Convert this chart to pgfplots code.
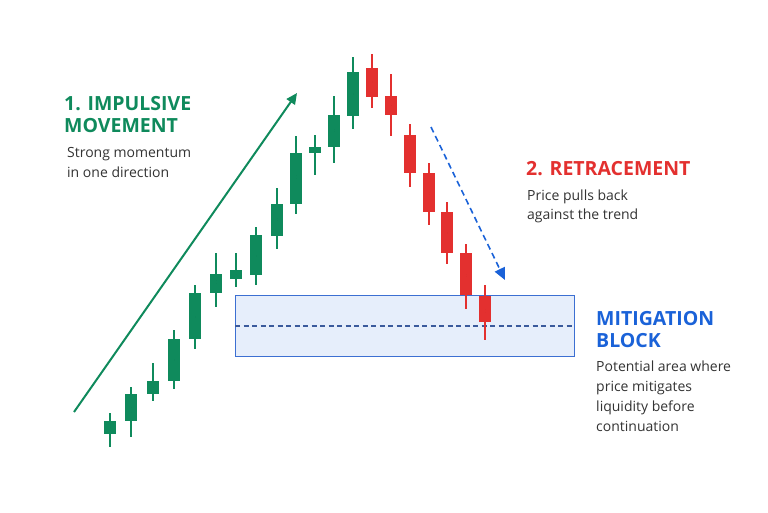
\documentclass[border=0pt]{standalone}
\usepackage{fontspec}
\setmainfont{Open Sans}
\usepackage{pgfplots}
\pgfplotsset{compat=1.18}
\usepackage{pgfplotstable}
\usetikzlibrary{arrows.meta}
\definecolor{cgreen}{HTML}{0F8A5C}
\definecolor{cred}{HTML}{E3302F}
\definecolor{cblue}{HTML}{1A62D8}
\definecolor{boxfill}{HTML}{E6EEFB}
\definecolor{boxline}{HTML}{3C6FD2}
\definecolor{dashline}{HTML}{3A5A9C}
\definecolor{txt}{HTML}{333333}

% pixel coordinates (y downward): x, open, high, low, close
\pgfplotstableread{
x o h l c
110 434 413 447 421
131 421 387 437 394
153 394 363 401 381
174 381 330 389 339
195 339 285 349 293
216 293 253 307 274
236 279 253 287 270
256 275 227 285 235
277 236 188 249 204
296 204 136 214 153
315 153 135 175 147
334 147 96 163 115
353 116 57 129 72
}\greendata
\pgfplotstableread{
x o h l c
372 68 54 108 97
391 96 74 136 115
410 135 124 187 173
429 173 163 225 212
447 212 202 264 253
466 253 244 309 295
485 296 285 340 322
}\reddata

\pgfplotsset{candle/.style={only marks, mark=*, mark size=0pt, mark options={draw=none, fill=none},
  error bars/.cd, y dir=both, y explicit, error mark=none}}

\begin{document}
\begin{tikzpicture}
\begin{axis}[name=ax, width=768pt, height=512pt, scale only axis,
  xmin=0, xmax=768, ymin=0, ymax=512, y dir=reverse, hide axis, clip=false]
% mitigation block
\addplot[draw=boxline, fill=boxfill, line width=1pt] coordinates {(235,295) (574,295) (574,356) (235,356)} -- cycle;
\addplot[dashline, line width=1.2pt, dash pattern=on 5pt off 3.5pt] coordinates {(235,326) (574,326)};
% wicks
\addplot[candle, error bar style={cgreen, line width=1.8pt}]
  table[x=x, y expr={(\thisrow{h}+\thisrow{l})/2}, y error expr={(\thisrow{l}-\thisrow{h})/2}] {\greendata};
\addplot[candle, error bar style={cred, line width=1.8pt}]
  table[x=x, y expr={(\thisrow{h}+\thisrow{l})/2}, y error expr={(\thisrow{l}-\thisrow{h})/2}] {\reddata};
% bodies
\addplot[candle, error bar style={cgreen, line width=12.5pt}]
  table[x=x, y expr={(\thisrow{o}+\thisrow{c})/2}, y error expr={abs(\thisrow{c}-\thisrow{o})/2}] {\greendata};
\addplot[candle, error bar style={cred, line width=12.5pt}]
  table[x=x, y expr={(\thisrow{o}+\thisrow{c})/2}, y error expr={abs(\thisrow{c}-\thisrow{o})/2}] {\reddata};
% arrows
\addplot[cgreen, line width=2pt, -{Triangle[length=11pt,width=10pt]}] coordinates {(74,412) (297,93)};
\addplot[cblue, line width=1.6pt, dash pattern=on 6pt off 4pt, -{Triangle[length=12pt,width=11pt]}] coordinates {(431,127) (505,280)};
% texts
\tikzset{hd/.style={anchor=base west, inner sep=0pt, font=\fontsize{19.5}{20}\selectfont\bfseries},
         bd/.style={anchor=base west, inner sep=0pt, text=txt, font=\fontsize{14}{16}\selectfont}}
\node[hd, text=cgreen] at (axis cs:64,110) {1. IMPULSIVE};
\node[hd, text=cgreen] at (axis cs:64,132) {MOVEMENT};
\node[bd] at (axis cs:67,157) {Strong momentum};
\node[bd] at (axis cs:67,177) {in one direction};
\node[hd, text=cred] at (axis cs:526,175) {2. RETRACEMENT};
\node[bd] at (axis cs:527,200) {Price pulls back};
\node[bd] at (axis cs:527,219) {against the trend};
\node[hd, text=cblue] at (axis cs:596,325) {MITIGATION};
\node[hd, text=cblue] at (axis cs:596,347) {BLOCK};
\node[bd] at (axis cs:596,371) {Potential area where};
\node[bd] at (axis cs:596,391) {price mitigates};
\node[bd] at (axis cs:596,411) {liquidity before};
\node[bd] at (axis cs:596,431) {continuation};
\end{axis}
\pgfresetboundingbox
\path (ax.south west) rectangle (ax.north east);
\end{tikzpicture}
\end{document}
